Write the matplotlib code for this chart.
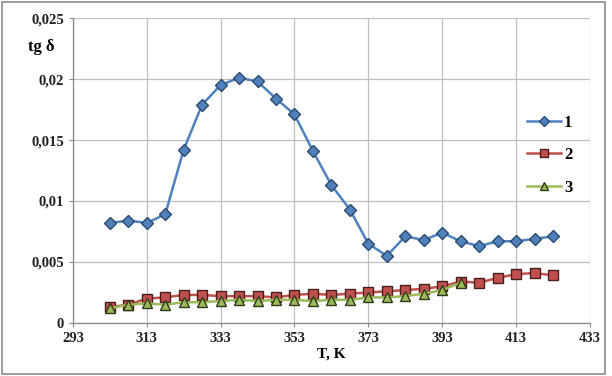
import matplotlib.pyplot as plt
from matplotlib.ticker import FuncFormatter

# temperature, K
T = [303, 308, 313, 318, 323, 328, 333, 338, 343, 348, 353, 358, 363,
     368, 373, 378, 383, 388, 393, 398, 403, 408, 413, 418, 423]
T3 = T[:20]

# tg delta for samples 1..3
tg1 = [0.0082, 0.0084, 0.0082, 0.0089, 0.0142, 0.0179, 0.0195, 0.0201,
       0.0198, 0.0184, 0.0171, 0.0141, 0.0113, 0.0093, 0.0065, 0.0055,
       0.0071, 0.0068, 0.0074, 0.0067, 0.0063, 0.0067, 0.0067, 0.0069,
       0.0071]
tg2 = [0.0013, 0.0015, 0.0020, 0.0021, 0.0023, 0.0023, 0.0022, 0.0022,
       0.0022, 0.0021, 0.0023, 0.0024, 0.0023, 0.0024, 0.0025, 0.0026,
       0.0027, 0.0028, 0.0030, 0.0034, 0.0033, 0.0037, 0.0040, 0.0041,
       0.0039]
tg3 = [0.0012, 0.0015, 0.0016, 0.0015, 0.0017, 0.0017, 0.0018, 0.0019,
       0.0018, 0.0019, 0.0019, 0.0018, 0.0019, 0.0019, 0.0021, 0.0021,
       0.0022, 0.0024, 0.0027, 0.0033]

labels = ['1', '2', '3']
xticks = [293, 313, 333, 353, 373, 393, 413, 433]
yticks = [0, 0.005, 0.01, 0.015, 0.02, 0.025]

plt.rcParams['font.family'] = ['Liberation Serif', 'DejaVu Serif']

fig = plt.figure(figsize=(6.12, 3.76), dpi=100)
ax = fig.add_axes([0.119, 0.141, 0.845, 0.811])

ax.plot(T, tg1, color='#4F81BD', lw=1.8, marker='D', ms=6,
        mfc='#4F81BD', mec='#2C4A70', mew=1.0, label=labels[0], zorder=3)
ax.plot(T, tg2, color='#C0504D', lw=1.8, marker='s', ms=7,
        mfc='#C0504D', mec='#4A1E1C', mew=1.0, label=labels[1], zorder=3)
ax.plot(T3, tg3, color='#9BBB59', lw=1.8, marker='^', ms=7,
        mfc='#9BBB59', mec='#2F3A18', mew=1.0, label=labels[2], zorder=4)

ax.set_xlim(293, 433)
ax.set_ylim(0, 0.025)
ax.set_xticks(xticks)
ax.set_yticks(yticks)
ax.yaxis.set_major_formatter(FuncFormatter(
    lambda v, p: '0' if v == 0 else ('%g' % v).replace('.', ',')))
ax.tick_params(labelsize=10.5, length=3, color='#888888', width=0.8)
for lbl in ax.get_xticklabels() + ax.get_yticklabels():
    lbl.set_fontweight('bold')
    lbl.set_color('#222222')

ax.grid(True, color='#BFBFBF', lw=0.9)
ax.set_axisbelow(True)
for side in ['top', 'right']:
    ax.spines[side].set_visible(False)
for side in ['left', 'bottom']:
    ax.spines[side].set_color('#888888')
    ax.spines[side].set_linewidth(0.9)

ax.set_xlabel('T, K', fontsize=11, fontweight='bold', labelpad=2)
fig.text(0.045, 0.875, 'tg δ', fontsize=12, fontweight='bold',
         ha='left', va='center')

leg = ax.legend(loc='center right', bbox_to_anchor=(0.995, 0.55),
                frameon=False, fontsize=12, handlelength=2.0,
                labelspacing=1.0, handletextpad=0.2, markerscale=0.8)
for t in leg.get_texts():
    t.set_fontweight('bold')

# outer chart border
fig.patches.append(plt.Rectangle((0.003, 0.004), 0.985, 0.99,
                                 transform=fig.transFigure, fill=False,
                                 edgecolor='#8C8C8C', lw=1.2))

fig.savefig('out.png', dpi=100)
